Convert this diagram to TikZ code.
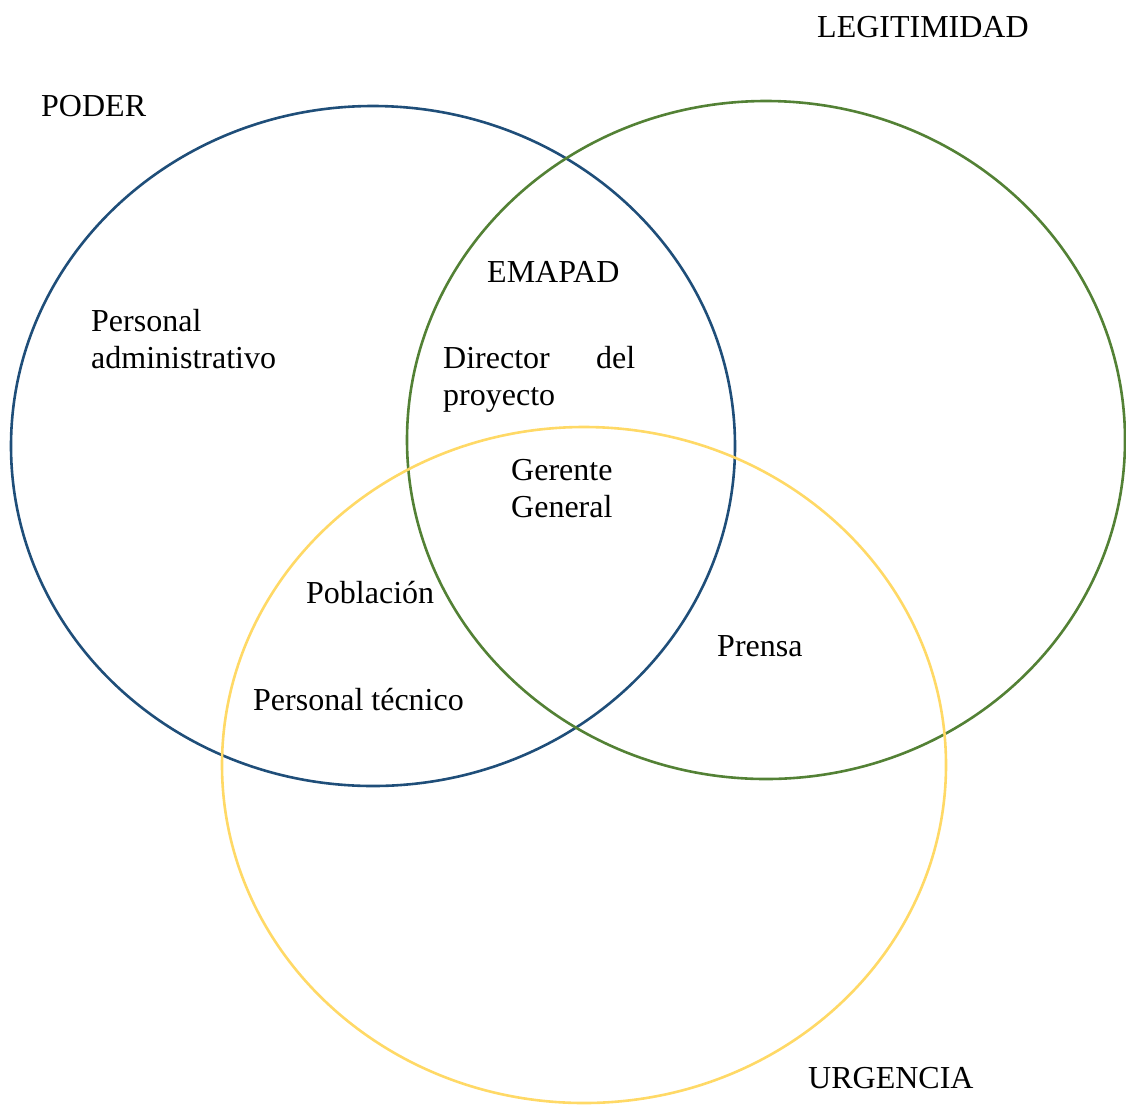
\documentclass[tikz,border=0pt]{standalone}
\usepackage{fontspec}
\setmainfont{Liberation Serif}
\definecolor{poderblue}{HTML}{1F4E79}
\definecolor{legitgreen}{HTML}{538135}
\definecolor{urgyellow}{HTML}{FFD966}
\begin{document}
\begin{tikzpicture}[x=1pt,y=-1pt,
  ring/.style={line width=2.6pt},
  lbl/.style={anchor=base west,inner sep=0pt,font=\fontsize{32}{37}\selectfont,align=left}]
\useasboundingbox (0,0) rectangle (1126,1104);
\draw[ring,poderblue] (373,446) ellipse [x radius=362, y radius=340];
\draw[ring,legitgreen] (766,440) ellipse [x radius=359, y radius=339];
\draw[ring,urgyellow] (584,765) ellipse [x radius=362, y radius=338];
\node[lbl] (poder) at (41,116) {PODER};
\node[lbl] (legit) at (817,37) {LEGITIMIDAD};
\node[lbl] (urg) at (808,1088) {URGENCIA};
\node[lbl] (padm) at (91,368) {Personal\\administrativo};
\node[lbl] (emapad) at (487,282) {EMAPAD};
\node[lbl] (dir) at (443,405) {\makebox[192pt][s]{Director del}\\proyecto};
\node[lbl] (ger) at (511,517) {Gerente\\General};
\node[lbl] (pob) at (306,603) {Población};
\node[lbl] (ptec) at (253,710) {Personal técnico};
\node[lbl] (prensa) at (717,656) {Prensa};
\end{tikzpicture}
\end{document}
